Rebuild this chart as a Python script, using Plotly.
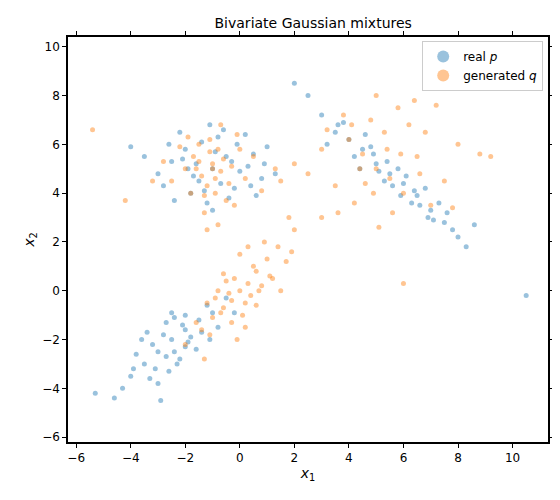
import plotly.graph_objects as go

# real p: three clusters
real_x = [-1.0, -0.5, -1.5, -2.0, -0.2, 0.3, -1.8, -2.5, -0.8, 0.8, -1.2, -3.0, -0.1, 0.5, -2.2, -1.6, -0.4, 1.0, -2.8, -1.1,
          0.0, -0.7, -1.9, 0.6, -3.5, -1.4, -0.3, 1.3, -2.4, -0.9, 0.2, -1.7, -4.0, 0.9, -1.3, -0.6, -2.1, 0.4, -2.6, -1.0,
          -2.5, -3.0, -2.0, -3.5, -1.5, -2.8, -2.2, -4.0, -1.0, -3.2, -2.6, -1.8, -3.8, -2.4, -0.8, -3.0, -2.0, -4.3, -1.2, -2.7,
          -3.4, -1.6, -2.9, -2.1, -0.5, -3.6, -2.3, -1.4, -4.6, -2.5, -3.1, -1.9, -2.7, -0.2, -3.3, -2.0, -1.1, -3.9, -2.4, -5.3,
          3.0, 3.5, 4.0, 4.5, 5.0, 5.5, 6.0, 6.5, 7.0, 7.5, 8.0, 3.8, 4.2, 4.8, 5.3, 5.8, 6.3, 6.8, 7.3, 7.8,
          2.5, 3.2, 4.6, 5.1, 5.6, 6.1, 6.6, 7.1, 8.3, 2.0, 4.4, 5.9, 6.9, 3.6, 4.9, 5.4, 6.4, 7.6, 8.6, 10.5]
real_y = [5.0, 5.5, 4.5, 5.8, 4.2, 5.1, 4.0, 5.3, 6.3, 4.6, 3.6, 4.8, 6.0, 5.6, 6.5, 5.2, 3.8, 5.9, 4.3, 6.8,
          4.9, 4.4, 5.0, 3.9, 5.5, 6.1, 5.3, 4.8, 3.7, 5.7, 6.4, 4.7, 5.9, 5.2, 4.1, 6.6, 5.4, 4.3, 6.0, 3.3,
          -2.0, -2.5, -1.6, -3.0, -1.2, -1.8, -2.8, -3.5, -0.9, -2.2, -3.3, -1.9, -2.6, -1.1, -1.5, -3.8, -2.3, -4.0, -0.6, -2.7,
          -1.7, -2.4, -4.5, -1.4, -0.3, -2.0, -3.0, -1.7, -4.4, -0.9, -3.2, -2.1, -1.3, -0.9, -3.6, -1.0, -2.0, -3.2, -2.5, -4.2,
          7.2, 6.5, 6.2, 5.8, 5.2, 4.8, 4.4, 3.9, 3.3, 2.8, 2.2, 6.9, 5.5, 5.9, 4.5, 5.0, 3.6, 4.2, 3.6, 2.5,
          8.0, 6.0, 6.4, 4.9, 4.3, 4.7, 3.5, 2.9, 1.8, 8.5, 5.0, 3.9, 3.0, 6.8, 5.6, 5.3, 4.1, 3.2, 2.7, -0.2]

# generated q
gen_x = [-1.0, -0.6, -1.4, -0.8, -1.2, -0.3, -1.7, -0.9, -1.1, 0.2, -2.0, -0.5, -1.5, -0.7, -1.3, 0.5, -2.5, -0.1, -1.8, -1.0,
         -0.4, -1.6, 0.8, -2.8, -0.2, -1.9, -1.1, -0.7, -3.2, 1.3, -1.3, -0.9, -2.2, 0.0, -1.5, -5.4, -4.2, 1.8, -0.8, -1.2,
         0.0, -0.3, 0.3, -0.6, 0.6, -1.0, 1.0, -1.4, 1.4, -0.2, 0.2, -0.8, 0.8, -1.2, 1.2, 0.1, -0.5, 0.5, -1.6, 1.7,
         -0.1, 0.4, -0.7, 0.9, -1.1, 1.1, 0.0, -0.4, 0.6, 2.0, -2.0, 0.3, -0.9, 1.5, -0.3, 0.7, -1.3, 1.9, 0.2, -0.6,
         5.0, 4.5, 5.5, 4.0, 6.0, 3.5, 6.5, 3.0, 7.0, 4.8, 5.3, 4.2, 5.8, 3.8, 6.2, 2.5, 7.5, 4.6, 5.6, 5.0,
         3.2, 6.8, 4.4, 5.9, 2.0, 8.0, 5.1, 4.1, 6.6, 3.6, 7.2, 4.9, 5.4, 6.4, 8.8, 9.2, 1.5, 6.0, 3.0, 7.8]
gen_y = [5.0, 5.4, 4.7, 5.8, 4.3, 5.1, 5.5, 4.0, 6.2, 4.6, 5.0, 3.7, 6.0, 4.9, 3.9, 5.5, 4.5, 6.4, 4.0, 5.2,
         4.4, 5.0, 4.1, 5.3, 3.5, 6.3, 5.7, 6.8, 4.5, 5.0, 3.2, 4.6, 5.9, 5.8, 5.3, 6.6, 3.7, 3.0, 2.7, 2.5,
         0.0, -0.4, 0.3, -0.7, 0.8, -1.1, 1.3, -1.6, 1.8, 0.5, -0.5, 0.0, 0.2, -0.5, 0.5, -1.0, 0.4, 1.0, -1.3, 1.2,
         -2.0, -0.2, -0.9, 2.0, -1.8, 0.6, 1.5, -0.1, -0.6, 2.5, -2.2, 1.8, -0.3, 0.0, -1.3, 0.0, -2.8, 1.6, -1.5, 0.7,
         5.0, 5.6, 4.6, 6.2, 4.0, 4.3, 5.5, 5.8, 3.5, 7.0, 6.5, 3.6, 7.5, 7.2, 6.8, 4.8, 4.5, 4.4, 3.2, 8.0,
         6.6, 6.5, 5.0, 5.6, 5.2, 6.0, 2.6, 6.8, 4.8, 3.2, 7.6, 4.0, 5.8, 7.8, 5.6, 5.5, 4.5, 0.3, 3.0, 3.4]

fig = go.Figure()
fig.add_trace(go.Scatter(x=real_x, y=real_y, mode='markers', name='real <i>p</i>',
                         marker=dict(color='#1f77b4', size=5, opacity=0.45, line=dict(width=0))))
fig.add_trace(go.Scatter(x=gen_x, y=gen_y, mode='markers', name='generated <i>q</i>',
                         marker=dict(color='#ff7f0e', size=5, opacity=0.45, line=dict(width=0))))

axis = dict(showgrid=False, zeroline=False, showline=True, linecolor='#000000', linewidth=1.5, mirror='ticks',
            ticks='outside', ticklen=4, tickcolor='black', tickfont=dict(size=12, color='black'), dtick=2)
fig.update_layout(
    width=560, height=500,
    margin=dict(l=60, r=20, t=29, b=66),
    plot_bgcolor='white', paper_bgcolor='white',
    font=dict(family='DejaVu Sans', color='black'),
    title=dict(text='Bivariate Gaussian mixtures', x=0.545, xanchor='center', y=0.98, font=dict(size=14)),
    xaxis=dict(axis, range=[-6.3, 11.3], title=dict(text='<i>x</i><sub>1</sub>', standoff=4)),
    yaxis=dict(axis, range=[-6.2, 10.4], title=dict(text='<i>x</i><sub>2</sub>', standoff=4)),
    legend=dict(x=0.99, y=0.99, xanchor='right', yanchor='top', bordercolor='#cccccc', borderwidth=1,
                font=dict(size=12), itemsizing='constant'),
)

fig.write_html("out.html")
